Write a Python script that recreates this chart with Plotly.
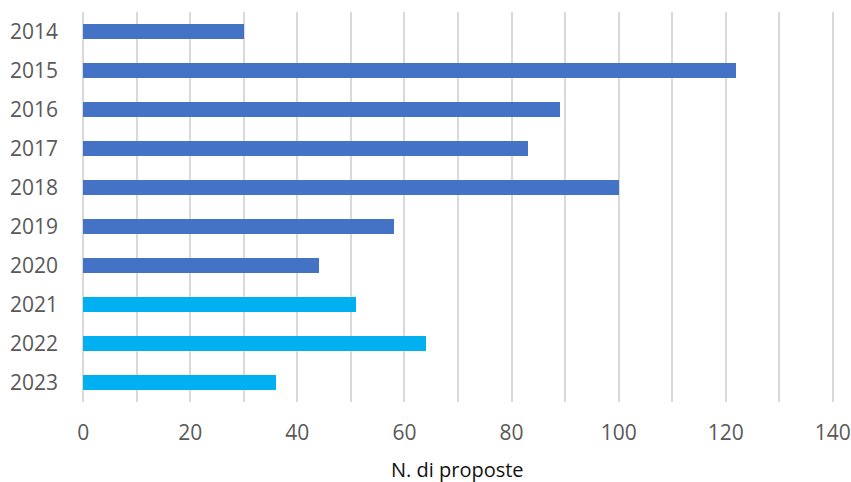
import plotly.graph_objects as go

years = ["2014", "2015", "2016", "2017", "2018", "2019", "2020", "2021", "2022", "2023"]
values = [30, 122, 89, 83, 100, 58, 44, 51, 64, 36]
colors = ["#4472C4"] * 7 + ["#00B0F0"] * 3

fig = go.Figure(go.Bar(
    x=values, y=years, orientation="h",
    marker=dict(color=colors, line=dict(width=0)),
    width=0.36,
))

font_color = "#595959"
fig.update_layout(
    width=851, height=482,
    margin=dict(l=81, r=16, t=12, b=80, autoexpand=False),
    plot_bgcolor="white", paper_bgcolor="white",
    showlegend=False,
    font=dict(family="Open Sans, Liberation Sans, sans-serif", size=21, color=font_color),
    bargap=0,
    annotations=[dict(
        text="N. di proposte", xref="paper", yref="paper",
        x=(457.5 - 81) / 754, y=(402 - 469) / 390, xanchor="center", yanchor="middle",
        showarrow=False, font=dict(size=20, color="#111111"),
    )],
)
fig.update_xaxes(
    range=[-0.4, 140.4], tickvals=[0, 20, 40, 60, 80, 100, 120, 140],
    showgrid=True, gridcolor="#D9D9D9", gridwidth=1.5,
    minor=dict(tickvals=[10, 30, 50, 70, 90, 110, 130], showgrid=True,
               gridcolor="#D9D9D9", gridwidth=1.5),
    zeroline=False, showline=False,
    ticklabelstandoff=16,
    automargin=False,
    tickfont=dict(size=21, color=font_color),
)
fig.update_yaxes(
    categoryorder="array", categoryarray=years, autorange="reversed",
    showgrid=False, zeroline=False, showline=False,
    ticklabelstandoff=22,
    automargin=False,
    tickfont=dict(size=21, color=font_color),
)
fig.write_html(
    "out.html",
    config={"displayModeBar": False},
    post_script="document.body.style.margin='0';document.body.style.overflow='hidden';",
)
